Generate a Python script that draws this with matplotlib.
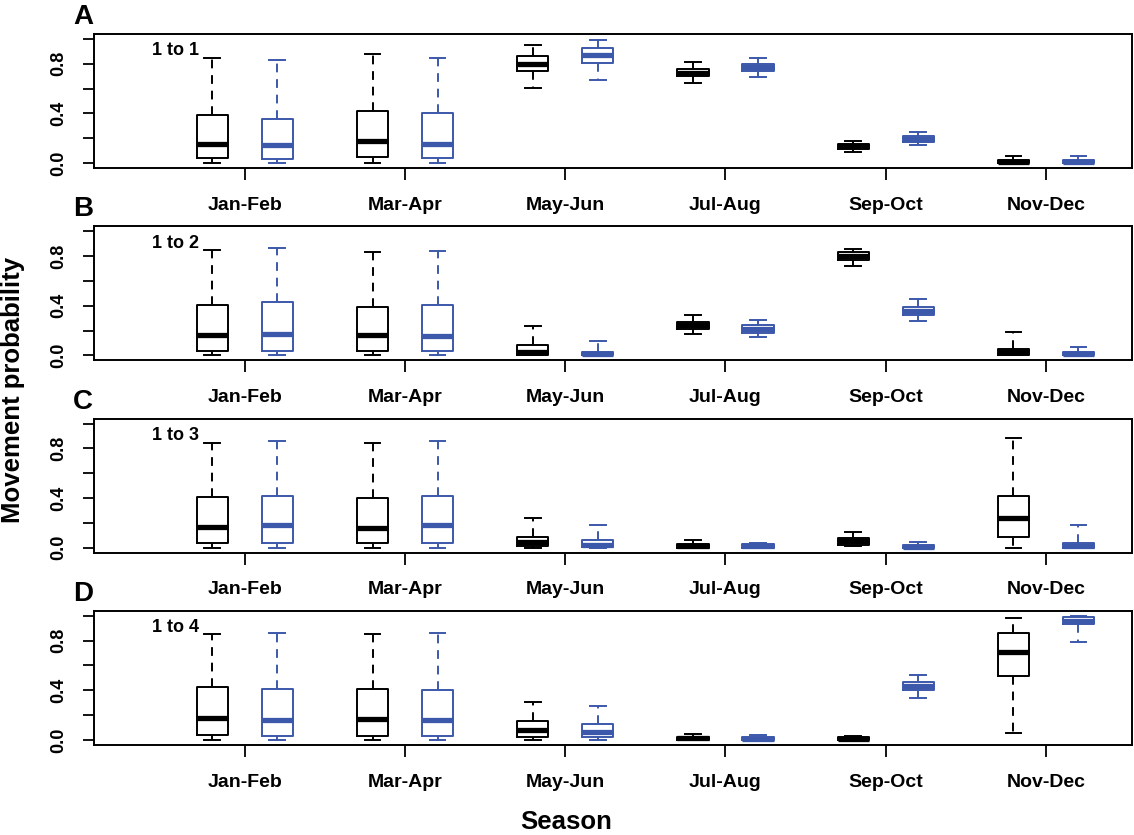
import matplotlib
matplotlib.use("Agg")
import matplotlib.pyplot as plt

plt.rcParams['font.family'] = ['Liberation Sans', 'DejaVu Sans']
plt.rcParams['font.weight'] = 'bold'

seasons = ['Jan-Feb', 'Mar-Apr', 'May-Jun', 'Jul-Aug', 'Sep-Oct', 'Nov-Dec']
panel_letters = ['A', 'B', 'C', 'D']
transitions = ['1 to 1', '1 to 2', '1 to 3', '1 to 4']
y_ticks = [0.0, 0.2, 0.4, 0.6, 0.8, 1.0]
y_tick_labels = ['0.0', '', '0.4', '', '0.8', '']

# five-number summaries per season: [lower whisker, Q1, median, Q3, upper whisker]
A_black = [[0.0, 0.037, 0.156, 0.384, 0.843],
           [0.0, 0.048, 0.177, 0.419, 0.879],
           [0.605, 0.742, 0.800, 0.860, 0.952],
           [0.642, 0.698, 0.728, 0.758, 0.811],
           [0.091, 0.115, 0.137, 0.156, 0.177],
           [0.0, 0.0, 0.008, 0.021, 0.056]]
A_blue = [[0.0, 0.032, 0.142, 0.357, 0.827],
          [0.0, 0.037, 0.156, 0.406, 0.843],
          [0.669, 0.806, 0.873, 0.924, 0.989],
          [0.696, 0.744, 0.771, 0.798, 0.843],
          [0.142, 0.172, 0.196, 0.218, 0.252],
          [0.0, 0.0, 0.006, 0.021, 0.054]]
B_black = [[0.0, 0.035, 0.160, 0.402, 0.850],
           [0.0, 0.035, 0.160, 0.389, 0.834],
           [0.0, 0.005, 0.030, 0.083, 0.238],
           [0.171, 0.214, 0.244, 0.270, 0.324],
           [0.716, 0.772, 0.802, 0.829, 0.861],
           [0.0, 0.005, 0.027, 0.048, 0.190]]
B_blue = [[0.0, 0.035, 0.174, 0.429, 0.869],
          [0.0, 0.032, 0.155, 0.402, 0.837],
          [0.0, 0.0, 0.010, 0.029, 0.118],
          [0.144, 0.184, 0.212, 0.241, 0.284],
          [0.273, 0.324, 0.359, 0.389, 0.456],
          [0.0, 0.0, 0.008, 0.024, 0.067]]
C_black = [[0.0, 0.037, 0.166, 0.407, 0.845],
           [0.0, 0.037, 0.158, 0.402, 0.842],
           [0.0, 0.010, 0.042, 0.082, 0.235],
           [0.0, 0.0, 0.013, 0.029, 0.058],
           [0.010, 0.023, 0.053, 0.077, 0.128],
           [0.0, 0.082, 0.238, 0.420, 0.885]]
C_blue = [[0.0, 0.037, 0.179, 0.420, 0.861],
          [0.0, 0.037, 0.179, 0.420, 0.861],
          [0.0, 0.005, 0.025, 0.058, 0.179],
          [0.0, 0.0, 0.010, 0.026, 0.034],
          [0.0, 0.0, 0.008, 0.020, 0.045],
          [0.0, 0.0, 0.015, 0.037, 0.179]]
D_black = [[0.0, 0.040, 0.177, 0.424, 0.853],
           [0.0, 0.035, 0.169, 0.408, 0.851],
           [0.0, 0.027, 0.081, 0.156, 0.306],
           [0.0, 0.0, 0.013, 0.027, 0.051],
           [0.0, 0.0, 0.005, 0.020, 0.035],
           [0.059, 0.518, 0.711, 0.859, 0.980]]
D_blue = [[0.0, 0.035, 0.161, 0.408, 0.861],
          [0.0, 0.035, 0.158, 0.403, 0.859],
          [0.0, 0.021, 0.067, 0.129, 0.271],
          [0.0, 0.0, 0.008, 0.027, 0.043],
          [0.335, 0.403, 0.435, 0.470, 0.526],
          [0.791, 0.931, 0.960, 0.988, 0.998]]

panels_black = [A_black, B_black, C_black, D_black]
panels_blue = [A_blue, B_blue, C_blue, D_blue]

BLACK = '#000000'
BLUE = '#3C58AB'

W, H = 1134, 835
fig = plt.figure(figsize=(W / 100, H / 100), dpi=100)

group_gap = 2.465
half_sep = 0.5
box_w = 0.48
ax_left_px, ax_right_px = 94, 1132
ax_h_px = 134
panel_step_px = 192.3
first_top_px = 34


def stats_from(summary):
    out = []
    for lo, q1, med, q3, hi in summary:
        out.append(dict(whislo=lo, q1=q1, med=med, q3=q3, whishi=hi, fliers=[]))
    return out


def draw_boxes(ax, summary, pos, color):
    lw = 1.4
    ax.bxp(stats_from(summary), positions=pos, widths=box_w, showfliers=False,
           capwidths=box_w * 0.5,
           boxprops=dict(color=color, linewidth=lw),
           whiskerprops=dict(color=color, linewidth=lw, linestyle=(0, (4.5, 3.5))),
           capprops=dict(color=color, linewidth=lw),
           medianprops=dict(color=color, linewidth=3.8, solid_capstyle='butt'),
           manage_ticks=False)


for k in range(4):
    top_px = first_top_px + panel_step_px * k
    ax = fig.add_axes([ax_left_px / W, 1 - (top_px + ax_h_px) / H,
                       (ax_right_px - ax_left_px) / W, ax_h_px / H])
    centers = [i * group_gap for i in range(len(seasons))]
    draw_boxes(ax, panels_black[k], [c - half_sep for c in centers], BLACK)
    draw_boxes(ax, panels_blue[k], [c + half_sep for c in centers], BLUE)
    ax.set_xlim(-2.32, 13.65)
    ax.set_ylim(-0.04, 1.04)
    ax.set_yticks(y_ticks)
    ax.set_yticklabels(y_tick_labels, rotation=90, va='center', fontsize=13,
                       fontweight='bold')
    ax.set_xticks(centers)
    ax.set_xticklabels(seasons, fontsize=14, fontweight='bold')
    ax.tick_params(axis='y', length=8, width=1.3, pad=11)
    ax.tick_params(axis='x', length=8.6, width=1.3, pad=12)
    for s in ax.spines.values():
        s.set_linewidth(1.4)
    ax.text(-1.43, 0.905, transitions[k], ha='left', va='center',
            fontsize=13, fontweight='bold')
    fig.text(83 / W, 1 - (17 + panel_step_px * k) / H, panel_letters[k],
             ha='center', va='center', fontsize=20, fontweight='bold')

fig.text(13 / W, 1 - 390 / H, 'Movement probability', rotation=90,
         ha='center', va='center', fontsize=18.5, fontweight='bold')
fig.text(566 / W, 1 - 822 / H, 'Season', ha='center', va='center',
         fontsize=18.5, fontweight='bold')

fig.savefig('out.png', dpi=100)
